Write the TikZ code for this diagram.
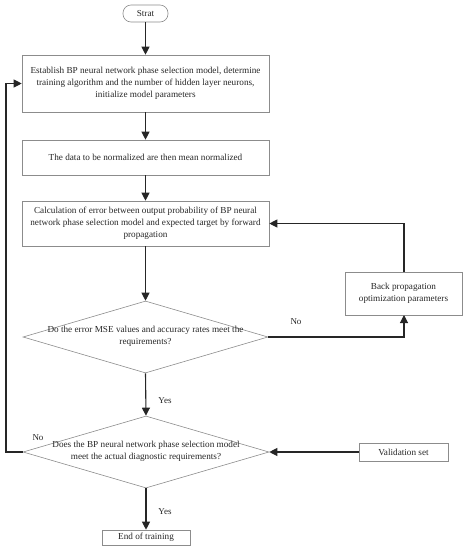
\documentclass[tikz,border=0pt]{standalone}
\usepackage{fontspec}
\setmainfont{Liberation Serif}
\usetikzlibrary{arrows.meta,shapes.geometric}
\begin{document}
\begin{tikzpicture}[x=1pt,y=-1pt,
  every node/.style={font=\fontsize{9.2}{12}\selectfont,text=black!85},
  procbox/.style={draw=black!45,line width=0.6pt,align=center,inner sep=0pt},
  decision/.style={draw=black!45,line width=0.6pt,diamond,aspect=3.4,inner sep=0pt,align=center},
  dtext/.style={align=center,inner sep=0pt},
  conn/.style={line width=1.1pt,draw=black!85,-{Triangle[length=8pt,width=8pt]}},
  lbl/.style={font=\fontsize{9}{10}\selectfont}]
\useasboundingbox (0,0) rectangle (467,550);
\node[procbox,rounded corners=8pt,minimum width=45pt,minimum height=17pt] (start) at (145.5,13.5) {Strat};
\node[procbox,minimum width=247pt,minimum height=57pt] (b1) at (145.5,83.5) {Establish BP neural network phase selection model, determine\\training algorithm and the number of hidden layer neurons,\\initialize model parameters};
\node[procbox,minimum width=247pt,minimum height=35pt] (b2) at (145.5,157.5) {The data to be normalized are then mean normalized};
\node[procbox,minimum width=247pt,minimum height=45pt] (b3) at (145.5,223.5) {Calculation of error between output probability of BP neural\\network phase selection model and expected target by forward\\propagation};
\node[procbox,minimum width=117pt,minimum height=43pt] (bp) at (403.5,293.5) {Back propagation\\optimization parameters};
\node[decision,minimum width=245pt,minimum height=72pt] (d1) at (145.5,337) {};
\node[dtext] (d1t) at (145.5,336) {Do the error MSE values and accuracy rates meet the\\requirements?};
\node[decision,minimum width=246pt,minimum height=72pt] (d2) at (146,452) {};
\node[dtext] (d2t) at (146,451) {Does the BP neural network phase selection model\\meet the actual diagnostic requirements?};
\node[procbox,minimum width=89pt,minimum height=18pt] (val) at (403.5,452) {Validation set};
\node[procbox,minimum width=88pt,minimum height=15pt] (end) at (146,537.5) {End of training};
\coordinate (bpbot) at (404,315);
\coordinate (bptop) at (404,272);
\coordinate (lx) at (6,452);
\draw[conn] (start) -- (b1);
\draw[conn] (b1) -- (b2);
\draw[conn] (b2) -- (b3);
\draw[conn] (b3) -- (d1);
\draw[conn] (d1.east) -| (bpbot);
\draw[conn] (bptop) |- (b3.east);
\draw[conn] (d1.south) -- (d2.north);
\draw[conn] (val) -- (d2.east);
\draw[conn] (d2.south) -- (end);
\draw[conn] (d2.west) -- (lx) |- (b1.west);
\node[lbl] (no1) at (296,322) {No};
\node[lbl] (yes1) at (165,401) {Yes};
\node[lbl] (no2) at (38,438) {No};
\node[lbl] (yes2) at (165,512) {Yes};
\end{tikzpicture}
\end{document}
